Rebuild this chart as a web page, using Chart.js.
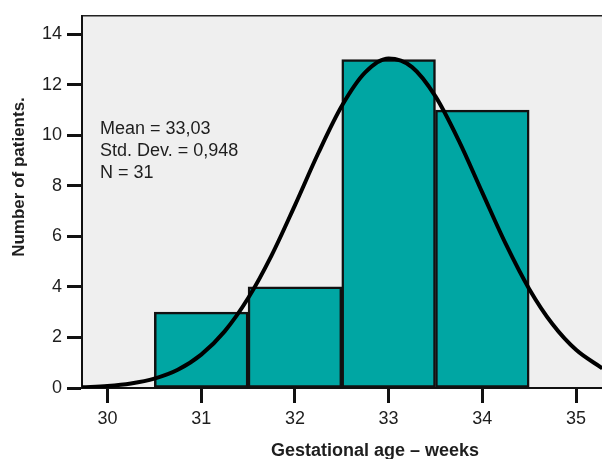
<!DOCTYPE html>
<html>
<head>
<meta charset="utf-8">
<script src="https://cdn.jsdelivr.net/npm/chart.js@4/dist/chart.umd.min.js"></script>
<style>
  html, body { margin: 0; padding: 0; background: #fff; overflow: hidden; }
  #wrap { width: 602px; height: 459px; position: relative; }
</style>
</head>
<body>
<div id="wrap"><canvas id="histChart"></canvas></div>
<script>
// =====================
// DATA
// =====================
const ageBins = [31, 32, 33, 34];
const patientCounts = [3, 4, 13, 11];

// normal curve
const curveAges   = [29.73, 30, 30.25, 30.5, 30.75, 31, 31.25, 31.5, 31.75, 32, 32.25, 32.5, 32.75, 33, 33.25, 33.5, 33.75, 34, 34.25, 34.5, 34.75, 35, 35.28];
const curveCounts = [0.03, 0.08, 0.18, 0.37, 0.72, 1.32, 2.24, 3.55, 5.24, 7.23, 9.30, 11.16, 12.49, 13.04, 12.70, 11.54, 9.78, 7.73, 5.70, 3.92, 2.52, 1.51, 0.78];

const xTicks = [30, 31, 32, 33, 34, 35];
const yTicks = [0, 2, 4, 6, 8, 10, 12, 14];

const statLines = ['Mean = 33,03', 'Std. Dev. = 0,948', 'N = 31'];
const xTitle = 'Gestational age \u2013 weeks';
const yTitle = 'Number of patients.';

Chart.defaults.font.family = '"Liberation Sans", Arial, sans-serif';

// =====================
// PLOT BACKGROUND + TEXT
// =====================
const plotDecor = {
  id: 'plotDecor',
  beforeDraw(chart) {
    const { ctx, chartArea: a } = chart;
    ctx.save();
    ctx.fillStyle = '#efefef';
    ctx.fillRect(a.left, a.top, a.right - a.left, a.bottom - a.top);
    ctx.strokeStyle = '#222';
    ctx.lineWidth = 1.5;
    ctx.beginPath();
    ctx.moveTo(a.left, a.top);
    ctx.lineTo(a.right, a.top);
    ctx.stroke();
    ctx.restore();
  },
  afterDraw(chart) {
    const { ctx } = chart;
    ctx.save();
    ctx.fillStyle = '#1e1e1e';
    ctx.textBaseline = 'alphabetic';
    ctx.textAlign = 'left';
    ctx.font = '18px "Liberation Sans", Arial, sans-serif';
    statLines.forEach((t, i) => ctx.fillText(t, 100, 134 + i * 22));

    ctx.font = 'bold 18px "Liberation Sans", Arial, sans-serif';
    ctx.textAlign = 'center';
    ctx.fillText(xTitle, 375, 456);

    ctx.translate(24, 177);
    ctx.rotate(-Math.PI / 2);
    ctx.font = 'bold 17px "Liberation Sans", Arial, sans-serif';
    ctx.fillText(yTitle, 0, 0);
    ctx.restore();
  }
};

const axisStyle = {
  grid: {
    offset: false,
    drawOnChartArea: false,
    drawTicks: true,
    tickLength: 15,
    tickWidth: 3,
    tickColor: '#111'
  },
  border: { display: true, color: '#111', width: 2 },
  ticks: {
    color: '#1e1e1e',
    font: { size: 18 },
    padding: 5
  }
};

new Chart(document.getElementById('histChart'), {
  type: 'bar',
  data: {
    datasets: [
      {
        type: 'line',
        data: curveAges.map((x, i) => ({ x, y: curveCounts[i] })),
        borderColor: '#000',
        borderWidth: 4,
        pointRadius: 0,
        cubicInterpolationMode: 'monotone',
        fill: false,
        order: 0
      },
      {
        type: 'bar',
        data: ageBins.map((x, i) => ({ x, y: patientCounts[i] })),
        backgroundColor: '#00a6a3',
        borderColor: '#111',
        borderWidth: 2.5,
        borderSkipped: false,
        barPercentage: 1,
        categoryPercentage: 1,
        order: 1
      }
    ]
  },
  options: {
    responsive: true,
    maintainAspectRatio: false,
    animation: false,
    layout: { padding: { top: 15, left: 0, right: 0, bottom: 0 } },
    plugins: {
      legend: { display: false },
      tooltip: { enabled: false }
    },
    scales: {
      x: {
        type: 'linear',
        min: 29.728,
        max: 35.277,
        offset: false,
        ...axisStyle,
        afterBuildTicks: s => { s.ticks = xTicks.map(v => ({ value: v })); },
        afterFit: s => { s.height = 71; }
      },
      y: {
        min: 0,
        max: 14.73,
        ...axisStyle,
        afterBuildTicks: s => { s.ticks = yTicks.map(v => ({ value: v })); },
        afterFit: s => { s.width = 82; }
      }
    }
  },
  plugins: [plotDecor]
});
</script>
</body>
</html>
